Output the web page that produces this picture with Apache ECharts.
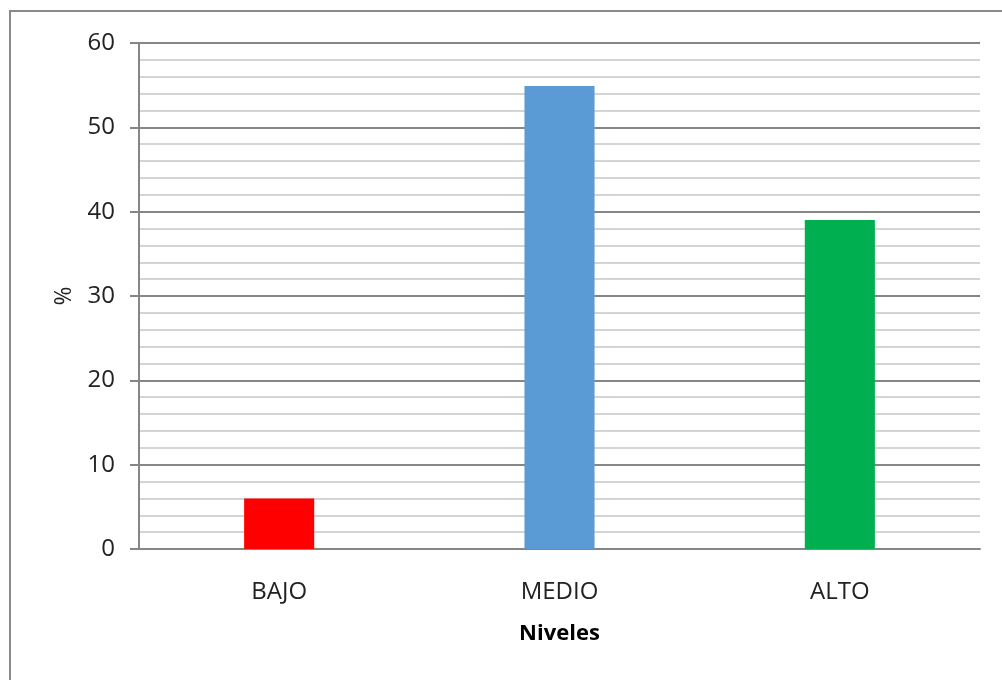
<!DOCTYPE html>
<html>
<head>
<meta charset="utf-8">
<script src="https://cdn.jsdelivr.net/npm/echarts@6/dist/echarts.min.js"></script>
<style>
html,body{margin:0;padding:0;background:#fff;}
#chart{width:1002px;height:680px;}
</style>
</head>
<body>
<div id="chart"></div>
<script>
const categories = ['BAJO', 'MEDIO', 'ALTO'];
const values = [6, 54.9, 39];
const barColors = ['#FF0000', '#5B9BD5', '#00B050'];
const yTicks = [0, 10, 20, 30, 40, 50, 60];
const xAxisTitle = 'Niveles';
const yAxisTitle = '%';

const chart = echarts.init(document.getElementById('chart'), null, {renderer: 'canvas'});
const font = '"Open Sans", "Noto Sans", sans-serif';
chart.setOption({
  animation: false,
  backgroundColor: '#ffffff',
  graphic: [{
    type: 'rect',
    shape: {x: 10, y: 11, width: 1200, height: 1000},
    style: {fill: 'none', stroke: '#8a8a8a', lineWidth: 2},
    silent: true
  }],
  grid: {left: 139, right: 22, top: 43, bottom: 131},
  xAxis: {
    type: 'category',
    data: categories,
    name: xAxisTitle,
    nameLocation: 'middle',
    nameGap: 74,
    nameTextStyle: {fontFamily: font, fontSize: 22, fontWeight: 'bold', color: '#000'},
    axisLine: {show: true, lineStyle: {color: '#868686', width: 2}},
    axisTick: {show: false},
    axisLabel: {fontFamily: font, fontSize: 24, color: '#222', margin: 31},
    splitLine: {show: false}
  },
  yAxis: {
    type: 'value',
    min: yTicks[0],
    max: yTicks[yTicks.length - 1],
    interval: 10,
    name: yAxisTitle,
    nameLocation: 'middle',
    nameGap: 63,
    nameRotate: 90,
    nameTextStyle: {fontFamily: font, fontSize: 23, color: '#222'},
    axisLine: {show: true, lineStyle: {color: '#868686', width: 2}},
    axisTick: {show: true, length: 9, lineStyle: {color: '#868686', width: 2}},
    axisLabel: {fontFamily: font, fontSize: 24, color: '#222', margin: 24},
    splitLine: {show: true, lineStyle: {color: '#868686', width: 2}},
    minorTick: {show: false, splitNumber: 5},
    minorSplitLine: {show: true, lineStyle: {color: '#d4d4d4', width: 2}}
  },
  series: [{
    type: 'bar',
    data: values.map((v, i) => ({value: v, itemStyle: {color: barColors[i]}})),
    barWidth: '25%'
  }]
});
</script>
</body>
</html>
